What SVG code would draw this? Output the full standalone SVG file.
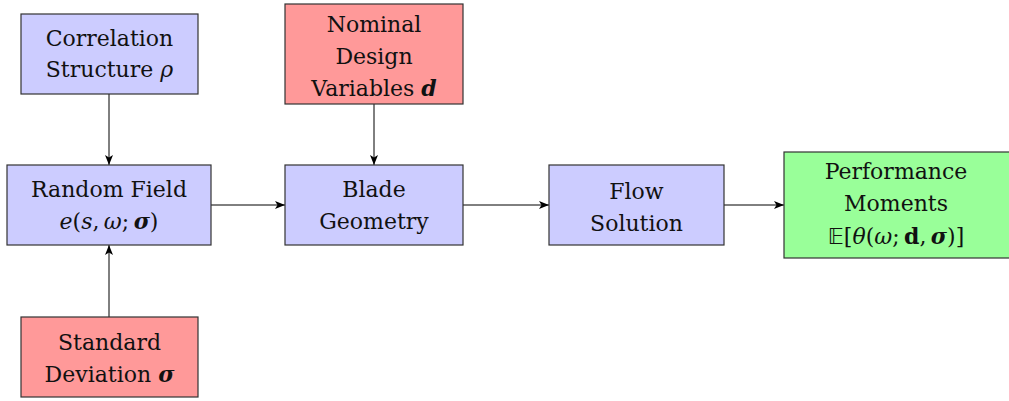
<svg xmlns="http://www.w3.org/2000/svg" width="1009" height="401" viewBox="0 0 1009 401">
<style>
.box{stroke:#333;stroke-width:1.2}
.blue{fill:#ccccff}.red{fill:#ff9999}.green{fill:#99ff99}
text{font-family:"DejaVu Serif","Liberation Serif",serif;font-size:22px;fill:#111;text-anchor:middle}
.i{font-style:italic}.b{font-weight:bold}
.c{stroke:#000;stroke-width:1;fill:none;marker-end:url(#ah)}
</style>
<defs>
<marker id="ah" viewBox="0 0 10 8" refX="10" refY="4" markerWidth="10" markerHeight="8" markerUnits="userSpaceOnUse" orient="auto">
<path d="M0,0 L10,4 L0,8 L2.5,4 Z" fill="#000"/>
</marker>
</defs>
<rect width="1009" height="401" fill="#fff"/>
<g id="connectors">
<line class="c" x1="109" y1="94" x2="109" y2="165"/>
<line class="c" x1="374" y1="104" x2="374" y2="165"/>
<line class="c" x1="109" y1="317" x2="109" y2="245"/>
<line class="c" x1="211" y1="205" x2="285" y2="205"/>
<line class="c" x1="463" y1="205" x2="549" y2="205"/>
<line class="c" x1="724" y1="205" x2="784" y2="205"/>
</g>
<g id="correlation">
<rect class="box blue" x="21" y="14" width="177" height="80"/>
<text x="109.5" y="46">Correlation</text>
<text x="109.5" y="77">Structure <tspan class="i">ρ</tspan></text>
</g>
<g id="nominal">
<rect class="box red" x="285" y="4" width="178" height="100"/>
<text x="374" y="32">Nominal</text>
<text x="374" y="64">Design</text>
<text x="374" y="96">Variables <tspan class="i b">d</tspan></text>
</g>
<g id="random-field">
<rect class="box blue" x="7" y="165" width="204" height="80"/>
<text x="109" y="197">Random Field</text>
<text x="109" y="229"><tspan class="i">e</tspan>(<tspan class="i">s</tspan>,&#8201;<tspan class="i">ω</tspan>;&#8201;<tspan class="i b">σ</tspan>)</text>
</g>
<g id="blade">
<rect class="box blue" x="285" y="165" width="178" height="80"/>
<text x="374" y="197">Blade</text>
<text x="374" y="229">Geometry</text>
</g>
<g id="flow">
<rect class="box blue" x="549" y="165" width="175" height="80"/>
<text x="636.5" y="199">Flow</text>
<text x="636.5" y="231">Solution</text>
</g>
<g id="performance">
<rect class="box green" x="784" y="152" width="240" height="106"/>
<text x="896" y="179">Performance</text>
<text x="896" y="211">Moments</text>
<text x="896" y="244"><tspan font-family="DejaVu Sans">𝔼</tspan>[<tspan class="i">θ</tspan>(<tspan class="i">ω</tspan>;&#8201;<tspan class="b">d</tspan>,&#8201;<tspan class="i b">σ</tspan>)]</text>
</g>
<g id="standard-deviation">
<rect class="box red" x="21" y="317" width="177" height="80"/>
<text x="109.5" y="350">Standard</text>
<text x="109.5" y="382">Deviation <tspan class="i b">σ</tspan></text>
</g>
</svg>
